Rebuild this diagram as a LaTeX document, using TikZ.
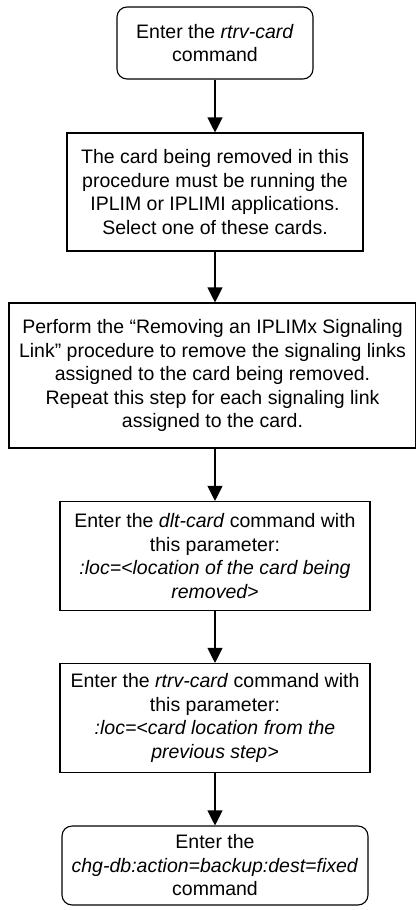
\documentclass[tikz,border=0pt]{standalone}
\usepackage{fontspec}
\setmainfont{Liberation Sans}
\usetikzlibrary{arrows.meta}
\tikzset{
  boxfont/.style={font=\fontsize{19.5}{23.5}\selectfont, align=center, inner sep=0pt},
  stepbox/.style={boxfont, draw, line width=1.1pt},
  termbox/.style={stepbox, rounded corners=10pt},
  flow/.style={line width=1.1pt, -{Triangle[length=15pt,width=15pt]}}
}
\begin{document}
\begin{tikzpicture}[x=1pt,y=-1pt]
  \useasboundingbox (0,0) rectangle (415,910);
  % start
  \node[termbox, minimum width=196, minimum height=72] (rtrv) at (215,43)
    {Enter the \textit{rtrv-card}\\command};
  % choose the card
  \node[stepbox, minimum width=296, minimum height=118] (select) at (215,192)
    {The card being removed in this\\procedure must be running the\\IPLIM or IPLIMI applications.\\Select one of these cards.};
  % remove the links
  \node[stepbox, minimum width=407, minimum height=145] (links) at (212.5,375.5)
    {Perform the “Removing an IPLIMx Signaling\\Link” procedure to remove the signaling links\\assigned to the card being removed.\\Repeat this step for each signaling link\\assigned to the card.};
  % delete the card
  \node[stepbox, minimum width=310, minimum height=109] (dlt) at (215,556)
    {Enter the \textit{dlt-card} command with\\this parameter:\\\textit{:loc=<location of the card being}\\\textit{removed>}};
  % verify
  \node[stepbox, minimum width=310, minimum height=109] (rtrvloc) at (215,718)
    {Enter the \textit{rtrv-card} command with\\this parameter:\\\textit{:loc=<card location from the}\\\textit{previous step>}};
  % backup
  \node[termbox, minimum width=306, minimum height=79] (chgdb) at (215,865.5)
    {Enter the\\\textit{chg-db:action=backup:dest=fixed}\\command};
  % arrows
  \draw[flow] (rtrv) -- (select);
  \draw[flow] (select.south) -- (select.south |- links.north);
  \draw[flow] (select.south |- links.south) -- (dlt.north);
  \draw[flow] (dlt) -- (rtrvloc);
  \draw[flow] (rtrvloc) -- (chgdb);
\end{tikzpicture}
\end{document}
